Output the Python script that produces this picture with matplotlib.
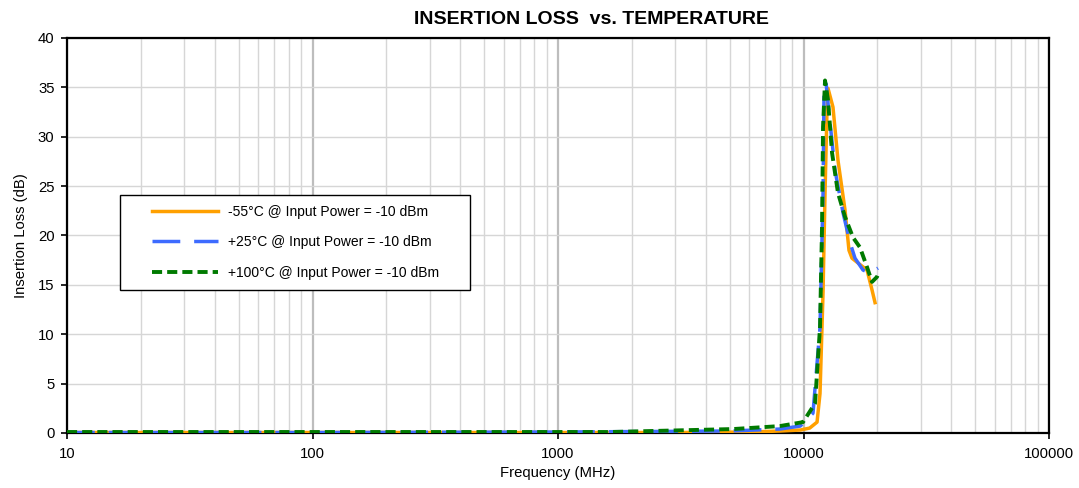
import numpy as np
import matplotlib
matplotlib.use("Agg")
import matplotlib.pyplot as plt
from matplotlib.patches import Rectangle
from matplotlib.ticker import LogLocator, FixedLocator, NullFormatter, FuncFormatter

plt.rcParams['font.family'] = ['Liberation Sans', 'DejaVu Sans']

# Frequency (MHz) / insertion loss (dB)
freq_m55 = [10, 100, 1000, 3000, 6000, 8000, 9700, 10600, 11354, 11675, 12010, 12237,
            12465, 12585, 13185, 13820, 14757, 15320, 15760, 16514, 18146, 19010, 19560]
il_m55 = [0.05, 0.05, 0.05, 0.05, 0.1, 0.2, 0.3, 0.5, 1.1, 4.0, 14.2, 24.3,
          32.7, 34.9, 33.0, 27.6, 22.6, 18.5, 17.7, 17.3, 16.5, 14.5, 13.2]

freq_p25 = [10, 100, 1000, 5000, 8000, 9700, 10930, 11675, 12010, 12120, 12350, 12585,
            13440, 14490, 15468, 16210, 17476, 18662, 20112]
il_p25 = [0.05, 0.05, 0.1, 0.2, 0.4, 0.7, 2.0, 10.7, 24.3, 34.4, 35.5, 33.4,
          26.6, 22.3, 19.3, 17.7, 16.5, 16.2, 16.7]

freq_p100 = [10, 100, 1629, 5164, 8000, 9954, 11143, 11675, 11897, 12010, 12237, 12585,
             13065, 13820, 14757, 15910, 16980, 18146, 19010, 19910, 20300]
il_p100 = [0.1, 0.1, 0.1, 0.4, 0.7, 1.1, 3.0, 10.7, 20.9, 31.0, 35.7, 33.7,
           28.4, 24.3, 21.9, 19.8, 18.8, 16.8, 15.3, 15.8, 16.3]

labels = ['-55°C @ Input Power = -10 dBm',
          '+25°C @ Input Power = -10 dBm',
          '+100°C @ Input Power = -10 dBm']

fig = plt.figure(figsize=(10.79, 4.88), dpi=100)
ax = fig.add_axes([67 / 1079, 1 - 433 / 488, 982 / 1079, 395 / 488])

ax.plot(freq_m55, il_m55, color='#FFA000', lw=2.5, label=labels[0], zorder=3)
ax.plot(freq_p25, il_p25, color='#3D6BFF', lw=2.5, dashes=(8, 4), label=labels[1], zorder=4)
ax.plot(freq_p100, il_p100, color='#007A00', lw=2.8, dashes=(2.6, 1.3), label=labels[2], zorder=5)

ax.set_xscale('log')
ax.set_xlim(10, 100000)
ax.set_ylim(0, 40)
ax.set_yticks(np.arange(0, 41, 5))
ax.xaxis.set_major_locator(FixedLocator([10, 100, 1000, 10000, 100000]))
ax.xaxis.set_major_formatter(FuncFormatter(lambda v, p: f'{int(round(v))}'))
ax.xaxis.set_minor_locator(LogLocator(base=10, subs=np.arange(2, 10)))
ax.xaxis.set_minor_formatter(NullFormatter())

ax.grid(True, which='major', axis='x', color='#BDBDBD', lw=1.6)
ax.grid(True, which='minor', axis='x', color='#D6D6D6', lw=1.0)
ax.grid(True, which='major', axis='y', color='#D6D6D6', lw=1.0)
ax.set_axisbelow(True)

for s in ax.spines.values():
    s.set_color('black')
    s.set_linewidth(1.6)

ax.tick_params(axis='both', which='major', direction='out', length=4, width=1.2,
               labelsize=10.7, color='black')
ax.tick_params(axis='x', which='minor', length=0)
ax.tick_params(axis='x', pad=6)
ax.tick_params(axis='y', pad=5)

ax.set_xlabel('Frequency (MHz)', fontsize=10.7, labelpad=4)
ax.set_ylabel('Insertion Loss (dB)', fontsize=10.7, labelpad=7)
ax.set_title('INSERTION LOSS  vs. TEMPERATURE', fontsize=14, fontweight='bold',
             x=0.534, pad=10)

# legend box drawn separately so the inner padding matches the reference
ax.add_patch(Rectangle((0.054, 0.362), 0.3564, 0.2405, transform=ax.transAxes,
                       facecolor='white', edgecolor='black', lw=1.0, zorder=6))
leg = ax.legend(loc='upper left', bbox_to_anchor=(0.0866, 0.578), fontsize=10,
                frameon=False, handlelength=4.75, handletextpad=0.72,
                labelspacing=1.2, borderpad=0, borderaxespad=0)
leg.set_zorder(7)

fig.savefig('out.png', dpi=100)
